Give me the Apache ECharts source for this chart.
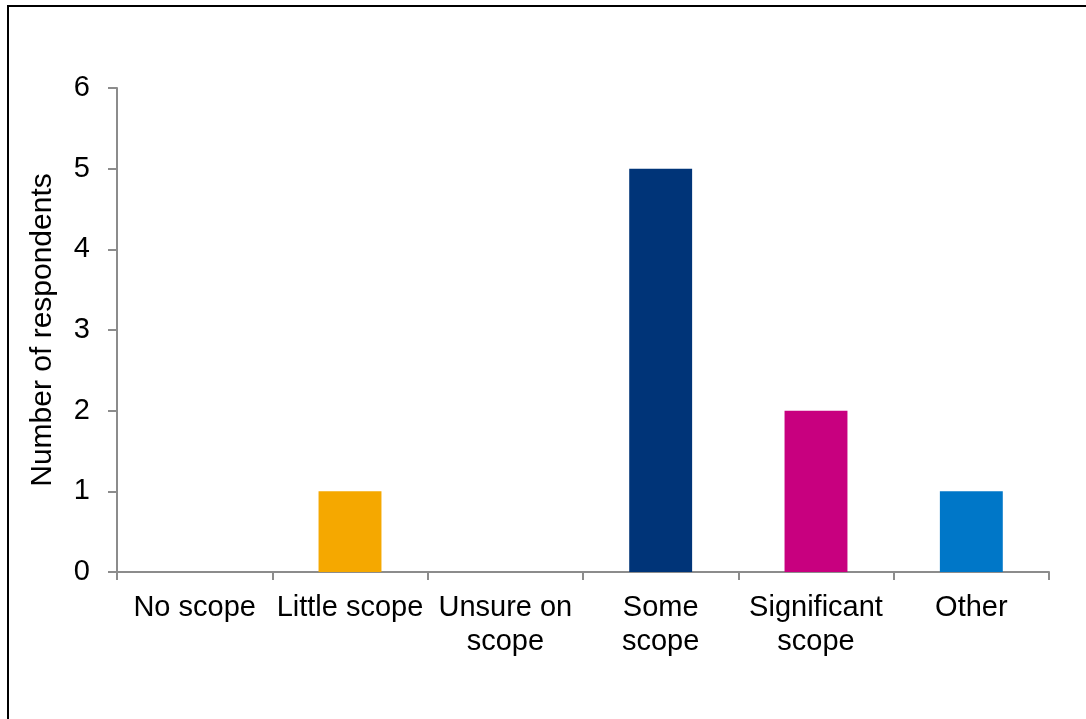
<!DOCTYPE html>
<html>
<head>
<meta charset="utf-8">
<script src="https://cdn.jsdelivr.net/npm/echarts@6/dist/echarts.min.js"></script>
<style>
  html, body { margin: 0; padding: 0; background: #fff; }
  #chart { width: 1086px; height: 719px; }
</style>
</head>
<body>
<div id="chart"></div>
<script>
// data
const categories = ['No scope', 'Little scope', 'Unsure on\nscope', 'Some\nscope', 'Significant\nscope', 'Other'];
const respondents = [0, 1, 0, 5, 2, 1];
const yTicks = [0, 1, 2, 3, 4, 5, 6];

// one colour per bar
const barColors = ['#4a4a4a', '#F5A800', '#8a8a8a', '#003478', '#C8007F', '#0077C8'];

const axisGrey = '#8c8c8c';
const fontFamily = '"Liberation Sans", Arial, sans-serif';

const myChart = echarts.init(document.getElementById('chart'));

const option = {
    animation: false,
    backgroundColor: '#fff',
    textStyle: { fontFamily: fontFamily },
    // outer chart frame (only top and left edges fall inside the picture)
    graphic: [{
        type: 'rect',
        shape: { x: 8, y: 6, width: 1200, height: 1000 },
        style: { fill: 'none', stroke: '#000', lineWidth: 2 }
    }],
    grid: {
        left: 117,
        right: 37,
        top: 88,
        bottom: 147
    },
    xAxis: {
        type: 'category',
        data: categories,
        axisLine: { lineStyle: { color: axisGrey, width: 2 } },
        axisTick: { show: true, length: 8, lineStyle: { color: axisGrey, width: 2 } },
        axisLabel: {
            color: '#000',
            fontSize: 29,
            lineHeight: 34,
            margin: 19,
            interval: 0,
            fontFamily: fontFamily
        }
    },
    yAxis: {
        type: 'value',
        min: yTicks[0],
        max: yTicks[yTicks.length - 1],
        interval: 1,
        name: 'Number of respondents',
        nameLocation: 'middle',
        nameRotate: 90,
        nameGap: 59,
        nameTextStyle: { color: '#000', fontSize: 30, fontFamily: fontFamily },
        splitLine: { show: false },
        axisLine: { show: true, lineStyle: { color: axisGrey, width: 2 } },
        axisTick: { show: true, length: 9, lineStyle: { color: axisGrey, width: 2 } },
        axisLabel: {
            color: '#000',
            fontSize: 29,
            margin: 27,
            fontFamily: fontFamily
        }
    },
    series: [{
        type: 'bar',
        data: respondents,
        barWidth: '40.5%',
        itemStyle: {
            color: function (p) { return barColors[p.dataIndex]; }
        }
    }]
};

option && myChart.setOption(option);
</script>
</body>
</html>
